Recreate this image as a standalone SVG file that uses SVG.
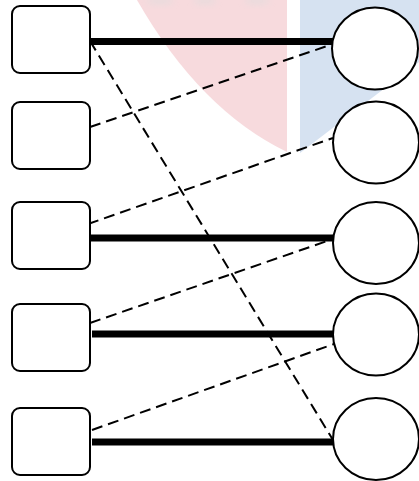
<svg xmlns="http://www.w3.org/2000/svg" width="419" height="481" viewBox="0 0 419 481">
<style>
.node{fill:#fff;stroke:#000;stroke-width:2}
.thick{stroke:#000;stroke-width:7;fill:none}
.dash{stroke:#000;stroke-width:2;stroke-dasharray:11 6;fill:none}
</style>
<defs>
<filter id="blur" x="-50%" y="-50%" width="200%" height="200%"><feGaussianBlur stdDeviation="3"/></filter>
</defs>
<g id="background">
<path d="M137,0 Q200,110 287,152 L287,0 Z" fill="#f7dadd"/>
<path d="M300,0 L419,0 L419,62 L300,153 Z" fill="#d6e2f1"/>
<g fill="#dddddd" filter="url(#blur)" opacity="0.5">
<ellipse cx="160" cy="1" rx="14" ry="4"/>
<ellipse cx="205" cy="1" rx="12" ry="4"/>
<ellipse cx="257" cy="1" rx="13" ry="4"/>
</g>
</g>
<g id="connectors">
<line class="thick" x1="90" y1="41.5" x2="333" y2="41.5"/>
<line class="thick" x1="90" y1="238" x2="334" y2="238"/>
<line class="thick" x1="92" y1="334" x2="335" y2="334"/>
<line class="thick" x1="92" y1="442" x2="335" y2="442"/>
<line class="dash" x1="90" y1="41" x2="333" y2="440"/>
<line class="dash" x1="90" y1="127" x2="333" y2="44"/>
<line class="dash" x1="88" y1="224" x2="333" y2="138"/>
<line class="dash" x1="90" y1="323" x2="333" y2="239"/>
<line class="dash" x1="92" y1="430" x2="334" y2="344"/>
</g>
<g id="r1"><rect class="node" x="12" y="6" width="78" height="67" rx="8"/></g>
<g id="r2"><rect class="node" x="12" y="102" width="78" height="67" rx="8"/></g>
<g id="r3"><rect class="node" x="12" y="202" width="78" height="67" rx="8"/></g>
<g id="r4"><rect class="node" x="12" y="304" width="78" height="67" rx="8"/></g>
<g id="r5"><rect class="node" x="12" y="408" width="78" height="67" rx="8"/></g>
<g id="c1"><ellipse class="node" cx="375" cy="48.5" rx="43" ry="41"/></g>
<g id="c2"><ellipse class="node" cx="376" cy="142.5" rx="43" ry="41"/></g>
<g id="c3"><ellipse class="node" cx="376" cy="243" rx="43" ry="41"/></g>
<g id="c4"><ellipse class="node" cx="376" cy="334.5" rx="43" ry="41"/></g>
<g id="c5"><ellipse class="node" cx="376" cy="439" rx="43" ry="41"/></g>
</svg>
